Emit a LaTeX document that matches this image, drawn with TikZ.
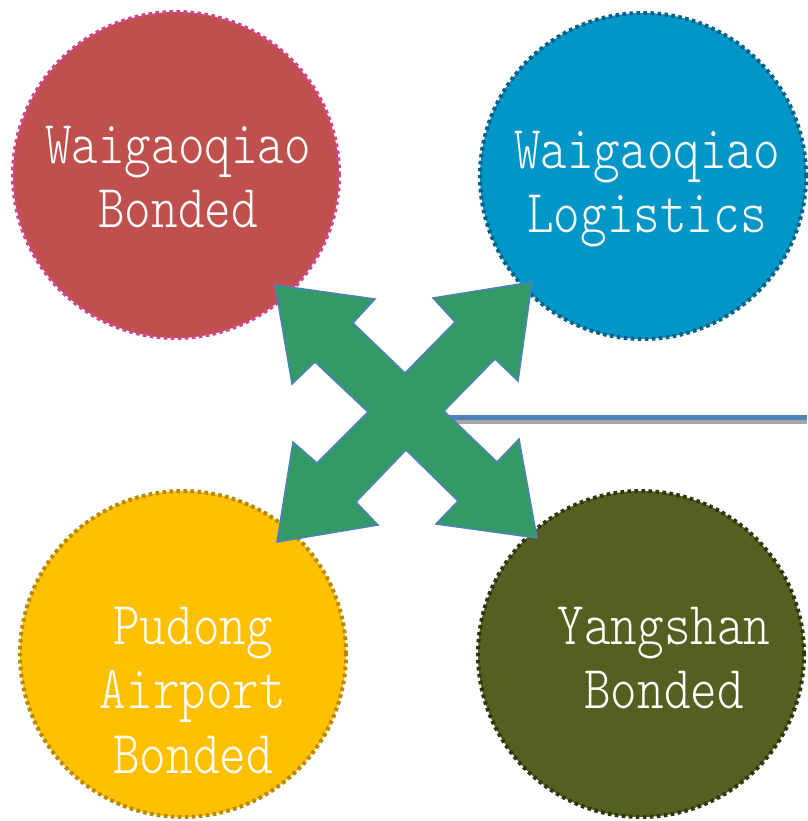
\documentclass[tikz,border=0pt]{standalone}
\usepackage{fontspec}
\newfontfamily\zonefont[Extension=.otf, FakeStretch=0.83]{lmmonolt10-regular}

\begin{document}
\begin{tikzpicture}[x=1pt, y=-1pt,
		zone/.style={circle, inner sep=0pt, minimum size=326pt, line width=4pt, dash pattern=on 3.6pt off 3.4pt},
		zonetext/.style={anchor=north, inner sep=0pt, align=center, text=white, font=\zonefont\fontsize{61}{64.5}\selectfont}]
		\useasboundingbox (0,0) rectangle (807,821);

		\definecolor{a}{RGB}{192,80,77}
		\definecolor{ab}{RGB}{208,70,140}
		\definecolor{b}{RGB}{0,150,200}
		\definecolor{bb}{RGB}{10,95,135}
		\definecolor{c}{RGB}{255,192,0}
		\definecolor{cb}{RGB}{185,135,0}
		\definecolor{d}{RGB}{84,96,32}
		\definecolor{db}{RGB}{45,55,15}
		\definecolor{g}{RGB}{51,153,102}
		\definecolor{e}{RGB}{79,129,189}

		% zones
		\node[zone, fill=a, draw=ab] (wgqb) at (176,175) {};
		\node[zone, fill=b, draw=bb] (wgql) at (643,176) {};
		\node[zone, fill=c, draw=cb] (pdab) at (183,654) {};
		\node[zone, fill=d, draw=db] (ysb) at (641,654) {};

		% link to the right
		\coordinate (hub-e) at (440,417.5);
		\coordinate (rim-e) at (807,417.5);
		\draw[line width=4pt, gray!70] ([yshift=-4.5pt]hub-e) -- ([yshift=-4.5pt]rim-e);
		\draw[line width=5pt, e] (hub-e) -- (rim-e);

		% four way arrow
		\def\crosspath{(275,285) -- (375,299) -- (353,323) -- (405,373) -- (455,322) -- (433,298)
			-- (532,282) -- (518,381) -- (495,359) -- (444,411) -- (497,462) -- (519,439)
			-- (537,538) -- (436,524) -- (458,501) -- (406,450) -- (356,502) -- (378,525)
			-- (277,542) -- (293,442) -- (317,463) -- (368,412) -- (315,362) -- (292,384) -- cycle}
		\filldraw[fill=g, draw=e, line width=1.5pt, line join=miter] \crosspath;

		% zone names
		\node[zonetext] (wgqb-name) at (178,126) {Waigaoqiao\\Bonded};
		\node[zonetext] (wgql-name) at (647,131) {Waigaoqiao\\Logistics};
		\node[zonetext] (pdab-name) at (193,607) {Pudong\\Airport\\Bonded};
		\node[zonetext] (ysb-name) at (664,607) {Yangshan\\Bonded};
	\end{tikzpicture}
\end{document}
